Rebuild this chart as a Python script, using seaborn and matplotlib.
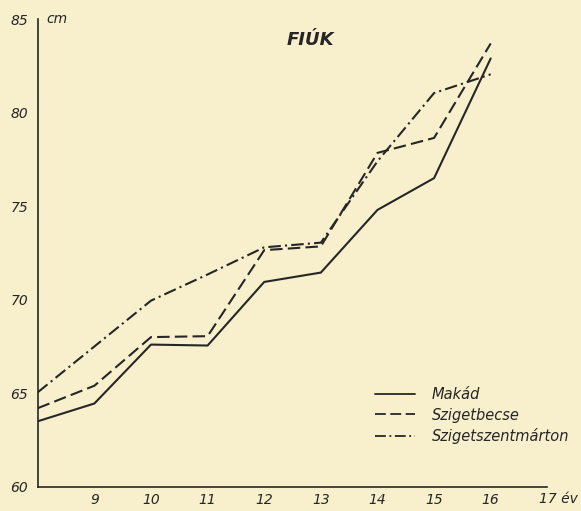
import matplotlib
matplotlib.use("Agg")
import matplotlib.pyplot as plt
import pandas as pd
import seaborn as sns

# age (years) and body height (cm)
ages = [8, 9, 10, 11, 12, 13, 14, 15, 16]
makad = [63.5, 64.45, 67.6, 67.55, 70.95, 71.45, 74.8, 76.5, 82.9]
szigetbecse = [64.2, 65.4, 68.0, 68.05, 72.65, 72.85, 77.85, 78.65, 83.7]
szigetszentmarton = [65.05, 67.5, 69.95, 71.35, 72.8, 73.05, 77.4, 81.05, 82.05]

names = ["Makád", "Szigetbecse", "Szigetszentmárton"]
xticks = [9, 10, 11, 12, 13, 14, 15, 16, 17]
xlabels = ["9", "10", "11", "12", "13", "14", "15", "16", ""]
yticks = [60, 65, 70, 75, 80, 85]

df = pd.DataFrame({
    "age": ages * 3,
    "height": makad + szigetbecse + szigetszentmarton,
    "place": [names[0]] * 9 + [names[1]] * 9 + [names[2]] * 9,
})

bg = "#f8efcd"
ink = "#262626"

sns.set_style("white")
plt.rcParams["font.family"] = ["DejaVu Sans"]

fig = plt.figure(figsize=(5.81, 5.11), dpi=100, facecolor=bg)
ax = fig.add_axes([0.065, 0.0475, 0.877, 0.915])
ax.set_facecolor(bg)

sns.lineplot(data=df, x="age", y="height", style="place", hue="place",
             palette=[ink, ink, ink],
             dashes={names[0]: "", names[1]: (6, 2.5), names[2]: (6, 2, 1, 2)},
             linewidth=1.5, legend=False, ax=ax)

ax.set_xlim(8, 17)
ax.set_ylim(60, 85)
ax.set_xlabel("")
ax.set_ylabel("")

for s in ["top", "right"]:
    ax.spines[s].set_visible(False)
for s in ["left", "bottom"]:
    ax.spines[s].set_color(ink)
    ax.spines[s].set_linewidth(1.2)

ax.set_xticks(xticks)
ax.set_xticklabels(xlabels, style="italic", fontsize=10, color=ink)
ax.set_yticks(yticks)
ax.set_yticklabels([str(v) for v in yticks], style="italic", fontsize=10, color=ink)
ax.set_yticks(range(60, 86), minor=True)
ax.tick_params(axis="x", direction="inout", length=6, width=1, color=ink, pad=1.5)
ax.tick_params(axis="y", which="both", direction="out", length=4, width=1, color=ink, pad=3)
ax.tick_params(axis="y", which="minor", length=3)

# last x label carries the unit
ax.annotate("17 év", xy=(16.86, 60), xytext=(0, -3.5), textcoords="offset points",
            style="italic", fontsize=10, color=ink, ha="left", va="top",
            annotation_clip=False)
ax.text(8.15, 85, "cm", style="italic", fontsize=10, color=ink, va="center", ha="left")
ax.text(0.535, 0.955, "FIÚK", transform=ax.transAxes, style="italic", fontweight="bold",
        fontsize=13, color=ink, ha="center", va="center")

handles = [
    plt.Line2D([], [], color=ink, lw=1.3, linestyle="-"),
    plt.Line2D([], [], color=ink, lw=1.3, linestyle=(0, (6, 2.5))),
    plt.Line2D([], [], color=ink, lw=1.3, linestyle=(0, (6, 2, 1, 2))),
]
leg = ax.legend(handles, names, loc="upper left", bbox_to_anchor=(0.637, 0.242),
                frameon=False, handlelength=2.7, handletextpad=1.15,
                labelspacing=0.4, prop={"style": "italic", "size": 10.5})
for t in leg.get_texts():
    t.set_color(ink)

fig.savefig("out.png", dpi=100, facecolor=bg)
